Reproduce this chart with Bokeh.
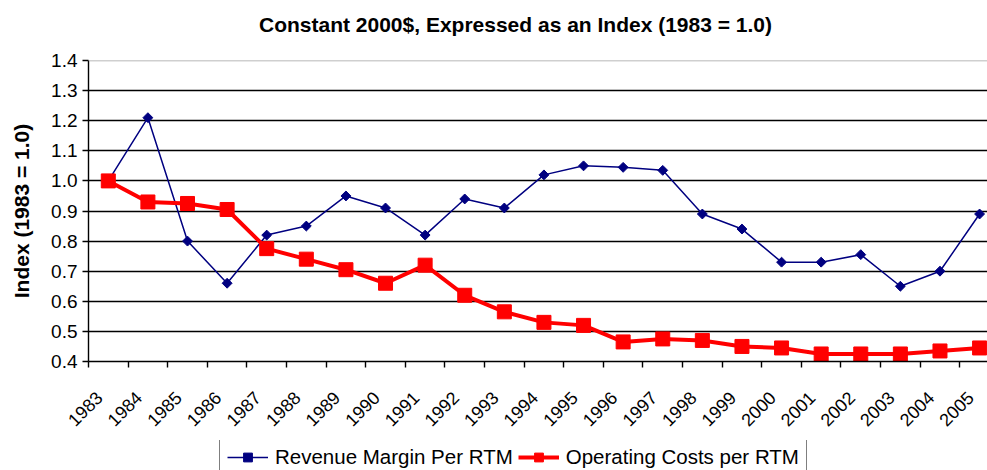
import math
from bokeh.plotting import figure
from bokeh.layouts import column
from bokeh.models import (Range1d, FixedTicker, Legend, LegendItem, Span, Label,
                          ColumnDataSource)
from bokeh.embed import file_html
from bokeh.resources import INLINE

years = ["1983", "1984", "1985", "1986", "1987", "1988", "1989", "1990", "1991",
         "1992", "1993", "1994", "1995", "1996", "1997", "1998", "1999", "2000",
         "2001", "2002", "2003", "2004", "2005"]
revenue_margin = [1.00, 1.21, 0.80, 0.66, 0.82, 0.85, 0.95, 0.91, 0.82, 0.94,
                  0.91, 1.02, 1.05, 1.045, 1.035, 0.89, 0.84, 0.73, 0.73, 0.755,
                  0.65, 0.70, 0.89]
operating_costs = [1.00, 0.93, 0.925, 0.905, 0.775, 0.74, 0.705, 0.66, 0.72, 0.62,
                   0.565, 0.53, 0.52, 0.465, 0.475, 0.47, 0.45, 0.445, 0.425, 0.425,
                   0.425, 0.435, 0.445]
y_ticks = [0.4, 0.5, 0.6, 0.7, 0.8, 0.9, 1.0, 1.1, 1.2, 1.3, 1.4]
title_text = "Constant 2000$, Expressed as an Index (1983 = 1.0)"
y_label = "Index (1983 = 1.0)"
series_names = ["Revenue Margin Per RTM", "Operating Costs per RTM"]

idx = list(range(len(years)))
src = ColumnDataSource(dict(x=idx, rev=revenue_margin, cost=operating_costs))

FONT = "Liberation Sans"
BLUE = "#000080"
RED = "#ff0000"
LABEL_SHIFT = 0.23  # rotated year labels sit slightly left of each category centre


def blank_strip(height):
    f = figure(width=987, height=height, output_backend="svg", toolbar_location=None,
               x_range=Range1d(0, 1), y_range=Range1d(0, 1),
               min_border_left=88, min_border_right=0, min_border_top=0,
               min_border_bottom=0, outline_line_color=None,
               background_fill_color="white", border_fill_color="white")
    f.axis.visible = False
    f.grid.visible = False
    return f


# title strip
t = blank_strip(48)
t.add_layout(Label(x=427, y=24, x_units="screen", y_units="screen", text=title_text,
                   text_font=FONT, text_font_size="21px", text_font_style="bold",
                   text_color="black", text_align="center", text_baseline="middle"))

# main chart
p = figure(width=987, height=392, output_backend="svg", toolbar_location=None,
           x_range=Range1d(-0.5, 22.2), y_range=Range1d(0.4, 1.4),
           min_border_left=88, min_border_right=0, min_border_top=12,
           min_border_bottom=79, outline_line_color=None,
           background_fill_color="white", border_fill_color="white")

# grid
p.xgrid.visible = False
p.ygrid.ticker = FixedTicker(ticks=[0.5, 0.6, 0.7, 0.8, 0.9, 1.0, 1.1, 1.2, 1.3])
p.ygrid.grid_line_color = "black"
p.ygrid.grid_line_width = 1.4
top_line = Span(location=1.4, dimension="width", line_color="#a0a0a0", line_width=1.4)
p.add_layout(top_line)

# y axis
p.yaxis.ticker = FixedTicker(ticks=y_ticks)
p.yaxis.major_label_overrides = {t_: f"{t_:.1f}" for t_ in y_ticks}
p.yaxis.axis_line_color = "black"
p.yaxis.axis_line_width = 1.4
p.yaxis.major_tick_line_color = "black"
p.yaxis.major_tick_line_width = 1.4
p.yaxis.major_tick_in = 0
p.yaxis.major_tick_out = 6
p.yaxis.minor_tick_line_color = None
p.yaxis.major_label_standoff = 5
p.yaxis.major_label_text_font = FONT
p.yaxis.major_label_text_font_size = "19px"
p.yaxis.major_label_text_color = "black"
p.yaxis.axis_label = y_label
p.yaxis.axis_label_text_font = FONT
p.yaxis.axis_label_text_font_size = "21px"
p.yaxis.axis_label_text_font_style = "bold"
p.yaxis.axis_label_text_color = "black"
p.yaxis.axis_label_standoff = 15

# x axis
label_pos = [i - LABEL_SHIFT for i in idx]
p.xaxis.ticker = FixedTicker(ticks=label_pos,
                             minor_ticks=[i - 0.5 for i in range(len(years) + 1)])
p.xaxis.major_label_overrides = {pos: y for pos, y in zip(label_pos, years)}
p.xaxis.major_label_orientation = math.pi / 4
p.xaxis.major_tick_line_color = None
p.xaxis.minor_tick_line_color = "black"
p.xaxis.minor_tick_line_width = 1.4
p.xaxis.minor_tick_in = 0
p.xaxis.minor_tick_out = 6
p.xaxis.axis_line_color = "black"
p.xaxis.axis_line_width = 1.4
p.xaxis.major_label_standoff = 27
p.xaxis.major_label_text_font = FONT
p.xaxis.major_label_text_font_size = "18px"
p.xaxis.major_label_text_color = "black"

# series
p.line("x", "rev", source=src, line_color=BLUE, line_width=1.5)
p.scatter("x", "rev", source=src, marker="square", angle=math.pi / 4, size=7,
          fill_color=BLUE, line_color=BLUE)
p.line("x", "cost", source=src, line_color=RED, line_width=4)
p.scatter("x", "cost", source=src, marker="square", size=14,
          fill_color=RED, line_color=RED)

# legend strip (separate figure so that the legend is not clipped)
q = blank_strip(30)
hidden = ColumnDataSource(dict(x=[-10], y=[-10]))
lr1 = q.line("x", "y", source=hidden, line_color=BLUE, line_width=1.5)
lm1 = q.scatter("x", "y", source=hidden, marker="square", angle=math.pi / 4, size=7,
                fill_color=BLUE, line_color=BLUE)
lr2 = q.line("x", "y", source=hidden, line_color=RED, line_width=4)
lm2 = q.scatter("x", "y", source=hidden, marker="square", size=14,
                fill_color=RED, line_color=RED)
legend = Legend(items=[LegendItem(label=series_names[0], renderers=[lr1, lm1]),
                       LegendItem(label=series_names[1], renderers=[lr2, lm2])],
                orientation="horizontal", location=(131, -7),
                border_line_color="black", border_line_width=1.4,
                background_fill_color="white", background_fill_alpha=1.0,
                label_text_font=FONT, label_text_font_size="20.5px", label_text_color="black",
                label_height=22, glyph_width=41, glyph_height=22, label_standoff=7,
                spacing=5, padding=7, margin=0)
q.add_layout(legend, "center")

layout = column(t, p, q, spacing=0)
open("out.html", "w").write(file_html(layout, INLINE))
